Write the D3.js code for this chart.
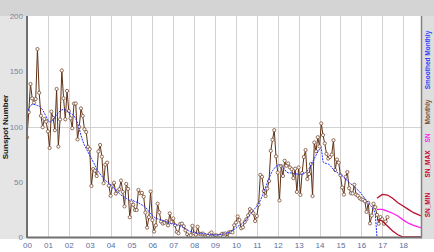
<!DOCTYPE html>
<html>
<head>
<meta charset="utf-8">
<script src="https://cdn.jsdelivr.net/npm/d3@7"></script>
<style>
  body { margin: 0; background: #fff; }
  svg { display: block; font-family: "Liberation Sans", Arial, sans-serif; }
</style>
</head>
<body>
<svg id="chart" width="434" height="252"></svg>
<script>
// monthly sunspot numbers, one row per year (Jan..Dec)
const monthlyYears = [2000, 2001, 2002, 2003, 2004, 2005, 2006, 2007, 2008, 2009, 2010, 2011, 2012, 2013, 2014, 2015, 2016, 2017];
const monthlyValues = [
  [90.1, 112.9, 138.5, 125.5, 121.6, 124.9, 170.1, 130.5, 109.7, 99.4, 106.8, 104.4],
  [95.6, 80.6, 113.5, 107.7, 96.6, 134.0, 81.8, 106.4, 150.7, 125.5, 106.5, 132.2],
  [114.1, 107.4, 98.4, 120.7, 120.8, 88.3, 99.6, 116.4, 109.6, 97.5, 95.0, 81.6],
  [79.5, 46.2, 61.5, 60.0, 55.2, 77.4, 83.3, 72.7, 48.7, 65.5, 67.3, 46.5],
  [37.3, 45.8, 49.1, 39.3, 41.5, 43.2, 51.1, 40.9, 27.7, 48.0, 43.5, 17.9],
  [31.3, 29.2, 24.5, 24.4, 42.6, 39.6, 39.9, 36.4, 22.1, 8.5, 18.0, 41.2],
  [15.3, 4.9, 10.6, 30.2, 22.3, 13.9, 12.2, 12.9, 14.4, 10.5, 21.4, 13.6],
  [16.8, 10.7, 4.5, 3.4, 11.7, 12.1, 9.7, 6.0, 2.4, 0.9, 1.7, 10.1],
  [3.3, 2.1, 9.3, 2.9, 2.9, 3.1, 0.5, 0.5, 1.1, 2.9, 4.1, 0.8],
  [1.5, 1.4, 0.7, 1.2, 2.9, 2.9, 3.2, 0.0, 4.2, 4.6, 4.2, 10.6],
  [13.1, 18.6, 15.4, 7.9, 8.8, 13.5, 16.1, 19.6, 25.2, 23.5, 21.5, 14.4],
  [19.0, 29.4, 56.2, 54.4, 41.6, 37.0, 43.8, 50.6, 78.0, 88.0, 96.7, 73.0],
  [58.3, 33.1, 64.2, 55.2, 69.0, 64.5, 66.5, 63.0, 61.4, 53.3, 61.8, 40.8],
  [62.9, 38.1, 57.9, 72.4, 78.7, 52.5, 57.0, 66.0, 37.0, 85.6, 77.6, 90.3],
  [82.0, 102.8, 92.2, 84.7, 75.2, 71.0, 72.4, 74.6, 87.6, 60.6, 70.1, 67.3],
  [56.0, 44.8, 38.4, 54.4, 58.8, 44.1, 39.6, 39.4, 47.3, 38.4, 37.4, 35.2],
  [34.0, 33.8, 32.5, 22.7, 30.9, 12.3, 19.4, 30.1, 27.0, 20.0, 12.0, 18.0],
  [16.0, 12.0, 14.0, 18.0]
];

// smoothed monthly values (last one drops to 0)
const smoothedValues = [
  [112, 116, 119, 120, 120, 119.5, 119, 118.5, 117, 115, 112, 109],
  [106, 104, 104.5, 106.5, 108.5, 110.5, 112.5, 114, 115, 115.5, 115, 114],
  [113, 112, 111, 109.5, 107, 103, 98, 92, 87, 83, 80, 77],
  [74, 71, 68, 65, 62, 59, 57, 55, 53, 51, 50, 49],
  [47, 45.5, 44, 42.5, 41, 39.5, 38, 37, 36, 35, 34, 33],
  [34, 33, 32, 31.5, 31, 30, 29, 28, 27, 25, 23, 21],
  [19.5, 18, 17, 16.5, 16, 15.5, 15, 14.5, 14, 13, 12.5, 12],
  [12, 11.5, 11, 10.5, 10, 9.5, 8.5, 7.5, 6.5, 5.5, 5, 4.5],
  [4, 3.8, 3.5, 3.3, 3.2, 3, 3, 2.8, 2.5, 2.2, 2, 1.7],
  [1.8, 1.9, 2, 2.2, 2.5, 2.8, 3.1, 3.6, 4.2, 5, 5.8, 6.8],
  [8, 9.5, 10.5, 11.5, 12.5, 14, 16, 18, 20, 22, 24, 26],
  [28, 30, 33, 37, 41, 45, 49, 53, 57, 60, 62, 64],
  [65, 65.5, 64.5, 63, 61, 59, 58, 58, 58, 57.5, 57, 57],
  [56.5, 56.5, 57, 57.5, 58.5, 60, 62, 65, 68, 71, 74, 77],
  [79.5, 81, 68, 67, 66.5, 66, 65, 63, 61, 59.5, 58.5, 57.5],
  [56.5, 55.5, 54, 52.5, 51, 49.5, 48, 47, 45.5, 44, 42.5, 41],
  [39, 37, 35, 33, 31, 29, 27, 25, 21, 0]
];

// predicted cycle
const predYears = [2016.75, 2017.0, 2017.25, 2017.5, 2017.75, 2018.0, 2018.25, 2018.5, 2018.75, 2019.0];
const predSN = [25, 25, 23.5, 21.5, 19, 15.5, 12.5, 10.5, 9, 8];
const predMax = [35, 38.5, 38, 35, 31, 28, 25, 22, 20, 18];
const predMin = [16, 14.5, 10, 5.5, 2, 0, 0, 0, 0, 0];

const yTicks = [0, 50, 100, 150, 200];
const xTickLabels = ['00', '01', '02', '03', '04', '05', '06', '07', '08', '09', '10', '11', '12', '13', '14', '15', '16', '17', '18'];

const legendItems = [
  { label: 'Smoothed Monthly', color: '#2a3cff', y: 60 },
  { label: 'Monthly', color: '#7a4a22', y: 112 },
  { label: 'SN', color: '#ff22ee', y: 138 },
  { label: 'SN_MAX', color: '#c8002e', y: 164 },
  { label: 'SN_MIN', color: '#c8002e', y: 205 }
];

function toSeries(rows) {
  const out = [];
  rows.forEach((row, i) => {
    row.forEach((v, m) => out.push({ t: monthlyYears[i] + m / 12, v: v }));
  });
  return out;
}

const monthly = toSeries(monthlyValues);
const smoothed = toSeries(smoothedValues);

const svg = d3.select('#chart');
const W = 434, H = 252;
const plot = { left: 27, right: 421, top: 16, bottom: 237 };

const x = d3.scaleLinear().domain([2000, 2019]).range([27, 424]);
const y = d3.scaleLinear().domain([0, 200]).range([plot.bottom, plot.top]);

// backgrounds
svg.append('rect').attr('x', 0).attr('y', 0).attr('width', W).attr('height', H).attr('fill', '#ffffff');
svg.append('rect').attr('x', 0).attr('y', 0).attr('width', W).attr('height', plot.top).attr('fill', '#d4d4d4');
svg.append('rect').attr('x', 0).attr('y', plot.top).attr('width', plot.left).attr('height', plot.bottom - plot.top + 2).attr('fill', '#e5e5e5');
svg.append('rect').attr('x', plot.right).attr('y', plot.top).attr('width', W - plot.right).attr('height', plot.bottom - plot.top + 2).attr('fill', '#dedede');

// grid
svg.append('g')
  .selectAll('line')
  .data(d3.range(2001, 2019))
  .enter().append('line')
  .attr('x1', d => Math.round(x(d)) + 0.5)
  .attr('x2', d => Math.round(x(d)) + 0.5)
  .attr('y1', plot.top)
  .attr('y2', plot.bottom)
  .attr('stroke', '#d2d2d2');

svg.append('line')
  .attr('x1', plot.left).attr('x2', plot.right)
  .attr('y1', Math.round(y(100)) + 0.5).attr('y2', Math.round(y(100)) + 0.5)
  .attr('stroke', '#d2d2d2');

// clip
svg.append('clipPath').attr('id', 'clip')
  .append('rect')
  .attr('x', plot.left).attr('y', plot.top)
  .attr('width', plot.right - plot.left).attr('height', plot.bottom - plot.top + 1);

const g = svg.append('g').attr('clip-path', 'url(#clip)');

const line = d3.line().x(d => x(d.t)).y(d => y(d.v));

// monthly
g.append('path')
  .datum(monthly)
  .attr('d', line)
  .attr('fill', 'none')
  .attr('stroke', '#5e3116')
  .attr('stroke-width', 1);

g.selectAll('.pt')
  .data(monthly)
  .enter().append('circle')
  .attr('class', 'pt')
  .attr('cx', d => x(d.t))
  .attr('cy', d => y(d.v))
  .attr('r', 1.6)
  .attr('fill', '#fff')
  .attr('stroke', '#7a4a30')
  .attr('stroke-width', 0.8);

// smoothed
g.append('path')
  .datum(smoothed)
  .attr('d', line)
  .attr('fill', 'none')
  .attr('stroke', '#1a2cff')
  .attr('stroke-width', 1)
  .attr('stroke-dasharray', '2,1');

// predictions
const predLine = d3.line().x((d, i) => x(predYears[i])).y(d => y(d));
[[predMax, '#b8102e'], [predMin, '#b8102e'], [predSN, '#ff1ef0']].forEach(([vals, col]) => {
  g.append('path')
    .datum(vals)
    .attr('d', predLine)
    .attr('fill', 'none')
    .attr('stroke', col)
    .attr('stroke-width', 1.3);
});

// axes frame
svg.append('line').attr('x1', plot.left).attr('x2', plot.left).attr('y1', plot.top).attr('y2', plot.bottom + 1)
  .attr('stroke', '#707070').attr('stroke-width', 2);
svg.append('line').attr('x1', plot.left).attr('x2', plot.right + 1).attr('y1', plot.bottom + 0.5).attr('y2', plot.bottom + 0.5)
  .attr('stroke', '#707070').attr('stroke-width', 2);
svg.append('line').attr('x1', plot.right + 0.5).attr('x2', plot.right + 0.5).attr('y1', plot.top).attr('y2', plot.bottom + 1)
  .attr('stroke', '#808080').attr('stroke-width', 1.5);

// y axis labels
const yAxis = d3.axisLeft(y).tickValues(yTicks).tickSize(0).tickPadding(3);
const yg = svg.append('g').attr('transform', `translate(${plot.left - 1},0)`).call(yAxis);
yg.select('.domain').remove();
yg.selectAll('text').attr('fill', '#7a86a0').attr('font-size', 8);

// x axis labels
const xAxis = d3.axisBottom(x).tickValues(d3.range(2000, 2019)).tickSize(0).tickPadding(5)
  .tickFormat((d, i) => xTickLabels[i]);
const xg = svg.append('g').attr('transform', `translate(0,${plot.bottom})`).call(xAxis);
xg.select('.domain').remove();
xg.selectAll('text').attr('fill', '#5a6e9c').attr('font-size', 8);

// y title
svg.append('text')
  .attr('transform', 'translate(8,127) rotate(-90)')
  .attr('text-anchor', 'middle')
  .attr('font-size', 8)
  .attr('font-weight', 'bold')
  .attr('fill', '#111')
  .text('Sunspot Number');

// legend (vertical, right strip)
svg.append('g')
  .selectAll('text')
  .data(legendItems)
  .enter().append('text')
  .attr('transform', d => `translate(430,${d.y}) rotate(-90)`)
  .attr('text-anchor', 'middle')
  .attr('font-size', 6.5)
  .attr('font-weight', 'bold')
  .attr('fill', d => d.color)
  .text(d => d.label);
</script>
</body>
</html>
